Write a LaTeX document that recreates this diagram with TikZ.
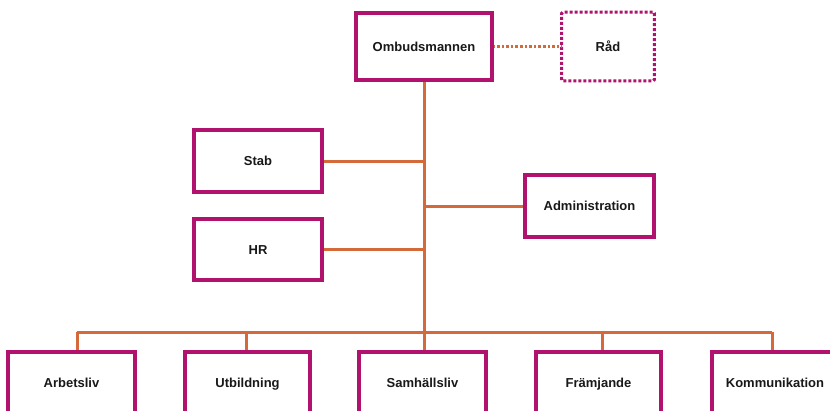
\documentclass[tikz,border=0pt]{standalone}
\usepackage{fontspec}
\setmainfont{Liberation Sans}
\definecolor{boxc}{HTML}{B0126E}
\definecolor{linec}{HTML}{D4693A}
\begin{document}
\begin{tikzpicture}[x=1pt,y=-1pt,
  box/.style={draw=boxc,line width=2.6pt,fill=white,rectangle,inner sep=0pt,
    text height=9.4pt,text depth=0pt,
    font=\fontsize{13}{15}\selectfont\bfseries,text=black!90},
  conn/.style={draw=linec,line width=3pt},
  dotconn/.style={draw=linec,line width=3pt,dash pattern=on 2.6pt off 2pt}]
\useasboundingbox (0,0) rectangle (830,410);
\clip (0,0) rectangle (830,410);
\fill[white] (0,0) rectangle (830,410);
% nodes
\node[box,minimum width=134,minimum height=66] (omb) at (424,46.5) {Ombudsmannen};
\node[box,draw=none,minimum width=90,minimum height=66] (rad) at (608,46.5) {Råd};
\node[box,minimum width=126,minimum height=60] (stab) at (258,161) {Stab};
\node[box,minimum width=126,minimum height=59] (hr) at (258,249.5) {HR};
\node[box,minimum width=127,minimum height=60] (adm) at (589.5,206) {Administration};
\node[box,minimum width=125,minimum height=60] (arb) at (71.5,383) {Arbetsliv};
\node[box,minimum width=123,minimum height=60] (utb) at (247.5,383) {Utbildning};
\node[box,minimum width=125,minimum height=60] (sam) at (422.5,383) {Samhällsliv};
\node[box,minimum width=123,minimum height=60] (fra) at (598.5,383) {Främjande};
\node[box,minimum width=124,minimum height=60] (kom) at (775,383) {Kommunikation};
% dotted border of Råd
\draw[boxc,line width=3pt,dash pattern=on 3pt off 2pt,rounded corners=1pt]
  (rad.south west) rectangle (rad.north east);
% coordinates
\coordinate (bus) at (424,332);
\coordinate (jstab) at (424,161);
\coordinate (jadm) at (424,206);
\coordinate (jhr) at (424,249.5);
\coordinate (busl) at (77,332);
\coordinate (busr) at (772,332);
% connectors
\draw[dotconn] (omb.east) -- (rad.west);
\draw[conn] (omb.south) -- (bus);
\draw[conn] (stab.east) -- (jstab);
\draw[conn] (adm.west) -- (jadm);
\draw[conn] (hr.east) -- (jhr);
\draw[conn] (busl) -- (busr);
\draw[conn] (busl) -- ([xshift=5.5]arb.north);
\draw[conn] (246,332) -- ([xshift=-1.5]utb.north);
\draw[conn] (bus) -- ([xshift=1.5]sam.north);
\draw[conn] (602,332) -- ([xshift=3.5]fra.north);
\draw[conn] (busr) -- ([xshift=-3]kom.north);
% redraw boxes on top of connector ends
\foreach \n in {omb,stab,hr,adm,arb,utb,sam,fra,kom}
  \draw[boxc,line width=2.6pt] (\n.south west) rectangle (\n.north east);
\end{tikzpicture}
\end{document}
